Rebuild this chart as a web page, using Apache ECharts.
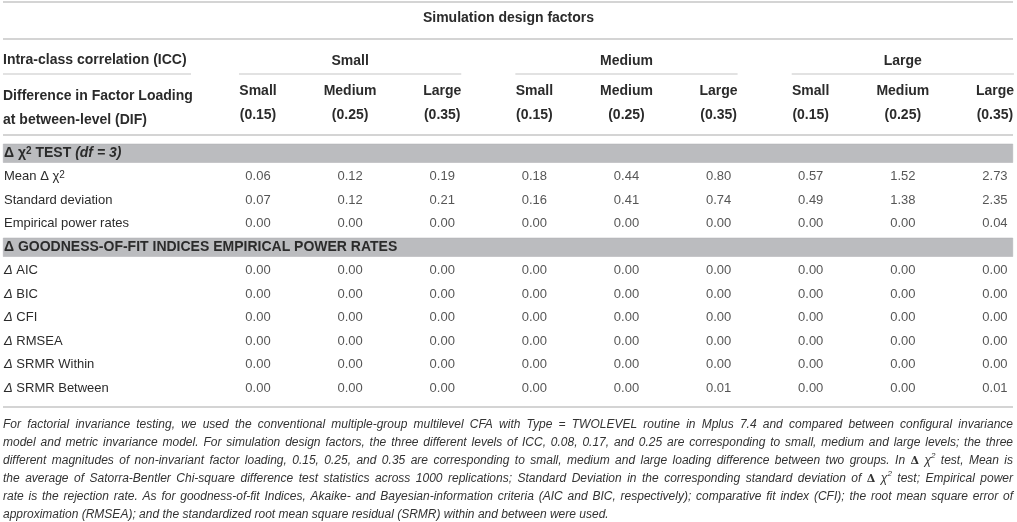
<!DOCTYPE html>
<html>
<head>
<meta charset="utf-8">
<script src="https://cdn.jsdelivr.net/npm/echarts@6/dist/echarts.min.js"></script>
<style>
html,body{margin:0;padding:0;background:#fff}
#main{width:1017px;height:522px}
</style>
</head>
<body>
<div id="main"></div>
<script>
// column headers: ICC level x DIF level
var iccLevels = ['Small', 'Medium', 'Large'];
var difLevels = ['Small', 'Medium', 'Large'];
var difValues = ['(0.15)', '(0.25)', '(0.35)'];

// table rows (0 and 4 are the grey section bands)
var rowLabels = ['Δ χ2 TEST (df = 3)', 'Mean Δ χ2', 'Standard deviation', 'Empirical power rates',
    'Δ GOODNESS-OF-FIT INDICES EMPIRICAL POWER RATES',
    'Δ AIC', 'Δ BIC', 'Δ CFI', 'Δ RMSEA', 'Δ SRMR Within', 'Δ SRMR Between'];
var bandRows = [0, 4];

// cell values, 9 columns each
var meanChi     = [0.06, 0.12, 0.19, 0.18, 0.44, 0.80, 0.57, 1.52, 2.73];
var sdChi       = [0.07, 0.12, 0.21, 0.16, 0.41, 0.74, 0.49, 1.38, 2.35];
var powerChi    = [0.00, 0.00, 0.00, 0.00, 0.00, 0.00, 0.00, 0.00, 0.04];
var powerAIC    = [0.00, 0.00, 0.00, 0.00, 0.00, 0.00, 0.00, 0.00, 0.00];
var powerBIC    = [0.00, 0.00, 0.00, 0.00, 0.00, 0.00, 0.00, 0.00, 0.00];
var powerCFI    = [0.00, 0.00, 0.00, 0.00, 0.00, 0.00, 0.00, 0.00, 0.00];
var powerRMSEA  = [0.00, 0.00, 0.00, 0.00, 0.00, 0.00, 0.00, 0.00, 0.00];
var powerSRMRW  = [0.00, 0.00, 0.00, 0.00, 0.00, 0.00, 0.00, 0.00, 0.00];
var powerSRMRB  = [0.00, 0.00, 0.00, 0.00, 0.00, 0.01, 0.00, 0.00, 0.01];

var cellRows = [null, meanChi, sdChi, powerChi, null,
    powerAIC, powerBIC, powerCFI, powerRMSEA, powerSRMRW, powerSRMRB];

// footnote, one entry per printed line; 'D' = bold delta, 's' = superscript
var noteLines = [
    [['i', 'For factorial invariance testing, we used the conventional multiple-group multilevel CFA with Type = TWOLEVEL routine in Mplus 7.4 and compared between configural invariance']],
    [['i', 'model and metric invariance model. For simulation design factors, the three different levels of ICC, 0.08, 0.17, and 0.25 are corresponding to small, medium and large levels; the three']],
    [['i', 'different magnitudes of non-invariant factor loading, 0.15, 0.25, and 0.35 are corresponding to small, medium and large loading difference between two groups. In '], ['D', 'Δ'], ['i', ' χ'], ['s', '2'], ['i', ' test, Mean is']],
    [['i', 'the average of Satorra-Bentler Chi-square difference test statistics across 1000 replications; Standard Deviation in the corresponding standard deviation of '], ['D', 'Δ'], ['i', ' χ'], ['s', '2'], ['i', ' test; Empirical power']],
    [['i', 'rate is the rejection rate. As for goodness-of-fit Indices, Akaike- and Bayesian-information criteria (AIC and BIC, respectively); comparative fit index (CFI); the root mean square error of']],
    [['i', 'approximation (RMSEA); and the standardized root mean square residual (SRMR) within and between were used.']]
];

var txt = '#2b2b2b';
var ruleColor = '#c6c6c6';
var font = 'Liberation Sans, Arial, sans-serif';

var colKeys = [];
iccLevels.forEach(function (icc, i) {
    difLevels.forEach(function (d, j) { colKeys.push(i * 3 + j); });
});

var cells = [];
cellRows.forEach(function (vals, r) {
    if (!vals) return;
    vals.forEach(function (v, c) { cells.push([c, r, v]); });
});

var bandData = rowLabels.map(function (r, i) {
    return bandRows.indexOf(i) >= 0 ? 1 : '-';
});

function rowFmt(v, i) {
    if (i === 0) return '{bb|Δ χ}{bsup|2}{bb| TEST }{bi|(df = 3)}';
    if (i === 4) return '{bb|' + v + '}';
    if (i === 1) return '{n|Mean Δ χ}{sup|2}';
    if (v.indexOf('Δ ') === 0) return '{d|Δ}{n|' + v.slice(1) + '}';
    return '{n|' + v + '}';
}

var rowTop = 141.5, rowH = 23.5;
var tableBottom = rowTop + rowH * rowLabels.length;

var myChart = echarts.init(document.getElementById('main'));
var option = {
    backgroundColor: '#fff',
    animation: false,
    title: {
        text: 'Simulation design factors',
        left: 'center',
        top: 6,
        textStyle: {fontFamily: font, fontSize: 14, fontWeight: 'bold', color: txt}
    },
    grid: [
        {left: 3, right: 4, top: rowTop, height: rowH * rowLabels.length},
        {left: 258, right: 18, top: rowTop, height: rowH * rowLabels.length}
    ],
    xAxis: [
        {gridIndex: 0, type: 'value', min: 0, max: 1, show: false},
        {
            gridIndex: 1, type: 'category', position: 'top', boundaryGap: false,
            data: colKeys,
            axisLine: {show: false}, axisTick: {show: false}, splitLine: {show: false},
            axisLabel: {
                interval: 0, margin: 14, lineHeight: 24,
                fontFamily: font, fontSize: 14, fontWeight: 'bold', color: txt,
                formatter: function (v, i) {
                    return difLevels[i % 3] + '\n' + difValues[i % 3];
                }
            }
        },
        {
            gridIndex: 1, type: 'category', position: 'top', boundaryGap: false, offset: 72,
            data: colKeys,
            axisLine: {show: false}, axisTick: {show: false}, splitLine: {show: false},
            axisLabel: {
                interval: 0, margin: 0, lineHeight: 16,
                fontFamily: font, fontSize: 14, fontWeight: 'bold', color: txt,
                formatter: function (v, i) {
                    return i % 3 === 1 ? iccLevels[(i - 1) / 3] : '';
                }
            }
        }
    ],
    yAxis: [
        {
            gridIndex: 0, type: 'category', inverse: true, data: rowLabels, z: 10,
            axisLine: {show: false}, axisTick: {show: false},
            axisLabel: {
                inside: true, margin: 1, formatter: rowFmt,
                rich: {
                    n: {fontFamily: font, fontSize: 13, color: txt, verticalAlign: 'middle'},
                    d: {fontFamily: font, fontSize: 13, color: txt, fontStyle: 'italic'},
                    sup: {fontFamily: font, fontSize: 10, color: txt, verticalAlign: 'top', lineHeight: 9},
                    bb: {fontFamily: font, fontSize: 14, fontWeight: 'bold', color: txt},
                    bi: {fontFamily: font, fontSize: 14, fontWeight: 'bold', fontStyle: 'italic', color: txt},
                    bsup: {fontFamily: font, fontSize: 10, fontWeight: 'bold', color: txt, verticalAlign: 'top', lineHeight: 9}
                }
            }
        },
        {
            gridIndex: 1, type: 'category', inverse: true, data: rowLabels, show: false
        }
    ],
    series: [
        {
            type: 'bar', xAxisIndex: 0, yAxisIndex: 0, data: bandData,
            barWidth: 19, silent: true,
            itemStyle: {color: '#bbbcbf', borderColor: '#aeafb2', borderWidth: 0.5}
        },
        {
            type: 'scatter', xAxisIndex: 1, yAxisIndex: 1, data: cells,
            symbolSize: 0, silent: true,
            label: {
                show: true, position: 'inside',
                fontFamily: font, fontSize: 13, color: txt,
                formatter: function (p) { return p.value[2].toFixed(2); }
            }
        }
    ]
};
myChart.setOption(option);

// rules and header texts, placed from the column scale
var gfx = [];
function hline(x1, x2, y, w) {
    gfx.push({type: 'line', silent: true,
        shape: {x1: x1, y1: y, x2: x2, y2: y},
        style: {stroke: ruleColor, lineWidth: w || 1.5}});
}
hline(3, 1013, 2);
hline(3, 1013, 39);
hline(3, 1013, rowTop - 6.5);
hline(3, 1013, tableBottom + 7);
hline(3, 191, 74, 1.2);
for (var g = 0; g < 3; g++) {
    var xa = myChart.convertToPixel({xAxisIndex: 1}, g * 3);
    var xb = myChart.convertToPixel({xAxisIndex: 1}, g * 3 + 2);
    hline(xa - 19, xb + 19, 74, 1.2);
}
var headStyle = {fontFamily: font, fontSize: 14, fontWeight: 'bold', fill: txt};
gfx.push({type: 'text', left: 3, top: 53, style: Object.assign({text: 'Intra-class correlation (ICC)'}, headStyle)});
gfx.push({type: 'text', left: 3, top: 84, style: Object.assign({text: 'Difference in Factor Loading\nat between-level (DIF)', lineHeight: 24}, headStyle)});

// footnote, justified to the table width
var noteFonts = {
    i: 'italic 12px Liberation Sans',
    D: 'bold 11px DejaVu Serif',
    s: 'italic 8px Liberation Sans'
};
var noteRich = {
    i: {fontFamily: font, fontSize: 12, fontStyle: 'italic', color: '#333', lineHeight: 18},
    D: {fontFamily: 'DejaVu Serif, serif', fontSize: 11, fontWeight: 'bold', color: '#333', lineHeight: 18},
    s: {fontFamily: font, fontSize: 8, fontStyle: 'italic', color: '#333', verticalAlign: 'top', lineHeight: 14}
};
var ctx = document.createElement('canvas').getContext('2d');
function measure(style, s) { ctx.font = noteFonts[style]; return ctx.measureText(s).width; }
var noteWidth = 1010;
var noteParts = noteLines.map(function (line, li) {
    var tokens = [];
    line.forEach(function (seg) {
        if (seg[0] !== 'i') { tokens.push([seg[0], seg[1]]); return; }
        seg[1].split(/( )/).forEach(function (w) {
            if (w === ' ') tokens.push(['gap', ' ']);
            else if (w) tokens.push(['i', w]);
        });
    });
    var used = 0, gaps = 0;
    tokens.forEach(function (t) {
        if (t[0] === 'gap') { gaps++; used += measure('i', ' '); }
        else used += measure(t[0], t[1]);
    });
    var gapW = measure('i', ' ');
    if (li < noteLines.length - 1 && gaps) gapW += (noteWidth - used) / gaps;
    noteRich['g' + li] = {fontFamily: font, fontSize: 12, width: gapW, lineHeight: 18};
    return tokens.map(function (t) {
        return t[0] === 'gap' ? '{g' + li + '| }' : '{' + t[0] + '|' + t[1] + '}';
    }).join('');
});
gfx.push({type: 'text', left: 3, top: tableBottom + 19, style: {text: noteParts.join('\n'), rich: noteRich, fill: '#333'}});

myChart.setOption({graphic: gfx});
</script>
</body>
</html>
